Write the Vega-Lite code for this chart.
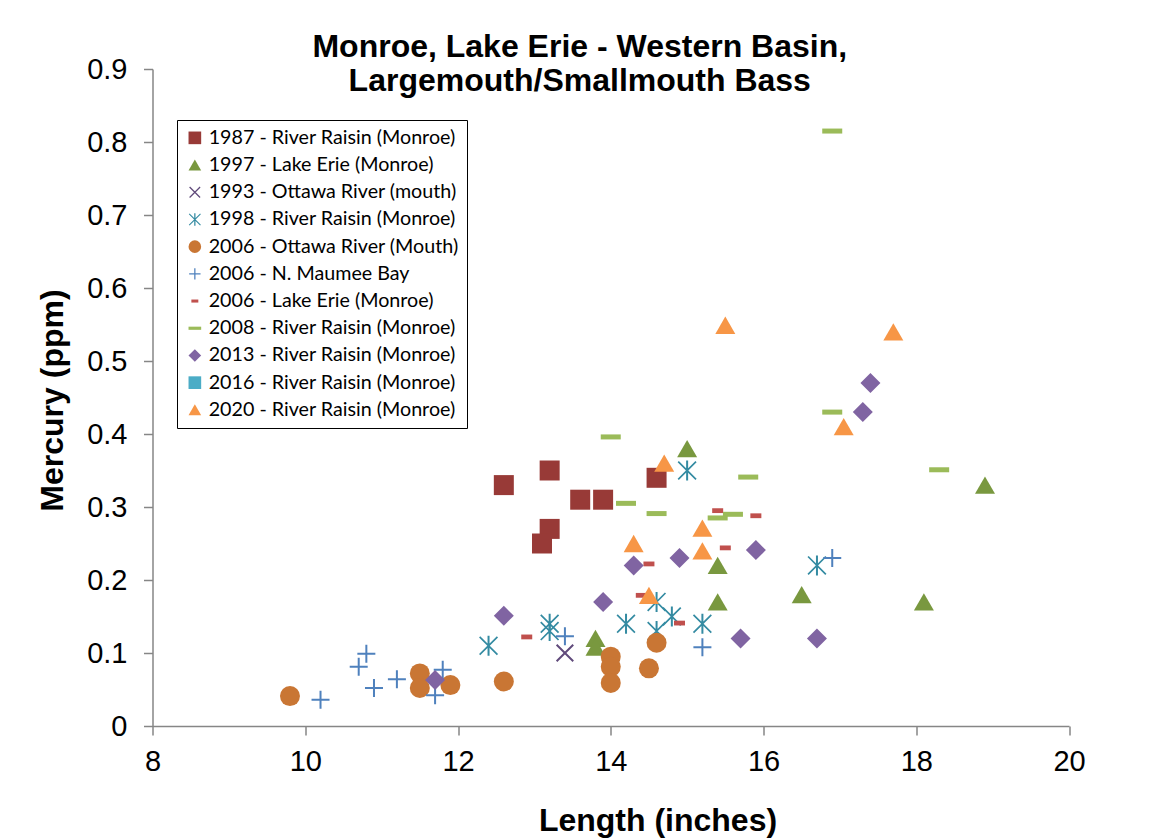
{
  "$schema": "https://vega.github.io/schema/vega-lite/v6.json",
  "width": 916.5,
  "height": 657,
  "autosize": {"type": "none"},
  "padding": {"left": 152.5, "top": 69, "right": 87, "bottom": 114},
  "background": "white",
  "title": {
    "text": ["Monroe, Lake Erie - Western Basin,", "Largemouth/Smallmouth Bass"],
    "font": "Liberation Sans",
    "fontSize": 32,
    "fontWeight": "bold",
    "color": "black",
    "anchor": "middle",
    "frame": "group",
    "dx": -31,
    "lineHeight": 34,
    "offset": -43
  },
  "config": {
    "view": {"stroke": null},
    "axis": {"grid": false}
  },
  "data": {
    "values": [
      {"series": "1987 - River Raisin (Monroe)", "length": 12.6, "mercury": 0.33},
      {"series": "1987 - River Raisin (Monroe)", "length": 13.2, "mercury": 0.35},
      {"series": "1987 - River Raisin (Monroe)", "length": 13.6, "mercury": 0.31},
      {"series": "1987 - River Raisin (Monroe)", "length": 13.9, "mercury": 0.31},
      {"series": "1987 - River Raisin (Monroe)", "length": 13.2, "mercury": 0.27},
      {"series": "1987 - River Raisin (Monroe)", "length": 13.1, "mercury": 0.25},
      {"series": "1987 - River Raisin (Monroe)", "length": 14.6, "mercury": 0.34},
      {"series": "1997 - Lake Erie (Monroe)", "length": 15.0, "mercury": 0.38},
      {"series": "1997 - Lake Erie (Monroe)", "length": 15.4, "mercury": 0.22},
      {"series": "1997 - Lake Erie (Monroe)", "length": 15.4, "mercury": 0.17},
      {"series": "1997 - Lake Erie (Monroe)", "length": 13.8, "mercury": 0.12},
      {"series": "1997 - Lake Erie (Monroe)", "length": 13.8, "mercury": 0.108},
      {"series": "1997 - Lake Erie (Monroe)", "length": 16.5, "mercury": 0.18},
      {"series": "1997 - Lake Erie (Monroe)", "length": 18.1, "mercury": 0.17},
      {"series": "1997 - Lake Erie (Monroe)", "length": 18.9, "mercury": 0.33},
      {"series": "1993 - Ottawa River (mouth)", "length": 13.4, "mercury": 0.10},
      {"series": "1998 - River Raisin (Monroe)", "length": 15.0, "mercury": 0.35},
      {"series": "1998 - River Raisin (Monroe)", "length": 12.4, "mercury": 0.11},
      {"series": "1998 - River Raisin (Monroe)", "length": 13.2, "mercury": 0.14},
      {"series": "1998 - River Raisin (Monroe)", "length": 13.2, "mercury": 0.13},
      {"series": "1998 - River Raisin (Monroe)", "length": 14.2, "mercury": 0.14},
      {"series": "1998 - River Raisin (Monroe)", "length": 14.6, "mercury": 0.17},
      {"series": "1998 - River Raisin (Monroe)", "length": 14.8, "mercury": 0.15},
      {"series": "1998 - River Raisin (Monroe)", "length": 14.6, "mercury": 0.13},
      {"series": "1998 - River Raisin (Monroe)", "length": 15.2, "mercury": 0.14},
      {"series": "1998 - River Raisin (Monroe)", "length": 16.7, "mercury": 0.22},
      {"series": "2006 - Ottawa River (Mouth)", "length": 9.8, "mercury": 0.041},
      {"series": "2006 - Ottawa River (Mouth)", "length": 11.5, "mercury": 0.072},
      {"series": "2006 - Ottawa River (Mouth)", "length": 11.5, "mercury": 0.052},
      {"series": "2006 - Ottawa River (Mouth)", "length": 11.9, "mercury": 0.056},
      {"series": "2006 - Ottawa River (Mouth)", "length": 12.6, "mercury": 0.061},
      {"series": "2006 - Ottawa River (Mouth)", "length": 14.0, "mercury": 0.095},
      {"series": "2006 - Ottawa River (Mouth)", "length": 14.0, "mercury": 0.081},
      {"series": "2006 - Ottawa River (Mouth)", "length": 14.0, "mercury": 0.059},
      {"series": "2006 - Ottawa River (Mouth)", "length": 14.5, "mercury": 0.079},
      {"series": "2006 - Ottawa River (Mouth)", "length": 14.6, "mercury": 0.114},
      {"series": "2006 - N. Maumee Bay", "length": 10.2, "mercury": 0.036},
      {"series": "2006 - N. Maumee Bay", "length": 10.7, "mercury": 0.081},
      {"series": "2006 - N. Maumee Bay", "length": 10.8, "mercury": 0.099},
      {"series": "2006 - N. Maumee Bay", "length": 10.9, "mercury": 0.052},
      {"series": "2006 - N. Maumee Bay", "length": 11.2, "mercury": 0.064},
      {"series": "2006 - N. Maumee Bay", "length": 11.8, "mercury": 0.077},
      {"series": "2006 - N. Maumee Bay", "length": 11.7, "mercury": 0.042},
      {"series": "2006 - N. Maumee Bay", "length": 13.4, "mercury": 0.123},
      {"series": "2006 - N. Maumee Bay", "length": 15.2, "mercury": 0.108},
      {"series": "2006 - N. Maumee Bay", "length": 16.9, "mercury": 0.23},
      {"series": "2006 - Lake Erie (Monroe)", "length": 12.9, "mercury": 0.122},
      {"series": "2006 - Lake Erie (Monroe)", "length": 14.4, "mercury": 0.179},
      {"series": "2006 - Lake Erie (Monroe)", "length": 14.5, "mercury": 0.222},
      {"series": "2006 - Lake Erie (Monroe)", "length": 14.9, "mercury": 0.141},
      {"series": "2006 - Lake Erie (Monroe)", "length": 15.4, "mercury": 0.295},
      {"series": "2006 - Lake Erie (Monroe)", "length": 15.9, "mercury": 0.288},
      {"series": "2006 - Lake Erie (Monroe)", "length": 15.5, "mercury": 0.244},
      {"series": "2008 - River Raisin (Monroe)", "length": 14.0, "mercury": 0.396},
      {"series": "2008 - River Raisin (Monroe)", "length": 14.2, "mercury": 0.305},
      {"series": "2008 - River Raisin (Monroe)", "length": 14.6, "mercury": 0.291},
      {"series": "2008 - River Raisin (Monroe)", "length": 15.8, "mercury": 0.341},
      {"series": "2008 - River Raisin (Monroe)", "length": 15.4, "mercury": 0.285},
      {"series": "2008 - River Raisin (Monroe)", "length": 15.6, "mercury": 0.29},
      {"series": "2008 - River Raisin (Monroe)", "length": 16.9, "mercury": 0.815},
      {"series": "2008 - River Raisin (Monroe)", "length": 16.9, "mercury": 0.43},
      {"series": "2008 - River Raisin (Monroe)", "length": 18.3, "mercury": 0.351},
      {"series": "2013 - River Raisin (Monroe)", "length": 11.7, "mercury": 0.063},
      {"series": "2013 - River Raisin (Monroe)", "length": 12.6, "mercury": 0.151},
      {"series": "2013 - River Raisin (Monroe)", "length": 13.9, "mercury": 0.17},
      {"series": "2013 - River Raisin (Monroe)", "length": 14.3, "mercury": 0.22},
      {"series": "2013 - River Raisin (Monroe)", "length": 14.9, "mercury": 0.23},
      {"series": "2013 - River Raisin (Monroe)", "length": 15.9, "mercury": 0.241},
      {"series": "2013 - River Raisin (Monroe)", "length": 15.7, "mercury": 0.12},
      {"series": "2013 - River Raisin (Monroe)", "length": 16.7, "mercury": 0.12},
      {"series": "2013 - River Raisin (Monroe)", "length": 17.3, "mercury": 0.43},
      {"series": "2013 - River Raisin (Monroe)", "length": 17.4, "mercury": 0.47},
      {"series": "2020 - River Raisin (Monroe)", "length": 15.5, "mercury": 0.549},
      {"series": "2020 - River Raisin (Monroe)", "length": 17.7, "mercury": 0.54},
      {"series": "2020 - River Raisin (Monroe)", "length": 17.05, "mercury": 0.41},
      {"series": "2020 - River Raisin (Monroe)", "length": 14.7, "mercury": 0.36},
      {"series": "2020 - River Raisin (Monroe)", "length": 15.2, "mercury": 0.271},
      {"series": "2020 - River Raisin (Monroe)", "length": 15.2, "mercury": 0.24},
      {"series": "2020 - River Raisin (Monroe)", "length": 14.3, "mercury": 0.25},
      {"series": "2020 - River Raisin (Monroe)", "length": 14.5, "mercury": 0.179}
    ]
  },
  "mark": {"type": "point", "filled": true, "opacity": 1, "size": 400, "strokeWidth": 0},
  "encoding": {
    "x": {
      "field": "length",
      "type": "quantitative",
      "scale": {"domain": [8, 20], "nice": false, "zero": false},
      "axis": {
        "values": [8, 10, 12, 14, 16, 18, 20],
        "title": "Length (inches)",
        "domainColor": "#868686",
        "domainWidth": 1.5,
        "tickColor": "#868686",
        "tickWidth": 1.5,
        "tickSize": 9,
        "labelFont": "Liberation Sans",
        "labelFontSize": 29,
        "labelColor": "black",
        "labelPadding": 12,
        "labelFlush": false,
        "labelOverlap": false,
        "titleFont": "Liberation Sans",
        "titleFontSize": 32,
        "titleFontWeight": "bold",
        "titleColor": "black",
        "titleX": 505,
        "titleY": 104,
        "titleBaseline": "alphabetic",
        "titleAlign": "center"
      }
    },
    "y": {
      "field": "mercury",
      "type": "quantitative",
      "scale": {"domain": [0, 0.9], "nice": false},
      "axis": {
        "values": [0, 0.1, 0.2, 0.3, 0.4, 0.5, 0.6, 0.7, 0.8, 0.9],
        "format": ".1~f",
        "title": "Mercury (ppm)",
        "domainColor": "#868686",
        "domainWidth": 1.5,
        "tickColor": "#868686",
        "tickWidth": 1.5,
        "tickSize": 9,
        "labelFont": "Liberation Sans",
        "labelFontSize": 29,
        "labelColor": "black",
        "labelPadding": 16.5,
        "labelFlush": false,
        "labelOverlap": false,
        "titleFont": "Liberation Sans",
        "titleFontSize": 32,
        "titleFontWeight": "bold",
        "titleColor": "black",
        "titleX": -90,
        "titleY": 331,
        "titleAngle": 270,
        "titleBaseline": "alphabetic",
        "titleAlign": "center"
      }
    },
    "color": {
      "field": "series",
      "type": "nominal",
      "scale": {
        "domain": [
          "1987 - River Raisin (Monroe)",
          "1997 - Lake Erie (Monroe)",
          "1993 - Ottawa River (mouth)",
          "1998 - River Raisin (Monroe)",
          "2006 - Ottawa River (Mouth)",
          "2006 - N. Maumee Bay",
          "2006 - Lake Erie (Monroe)",
          "2008 - River Raisin (Monroe)",
          "2013 - River Raisin (Monroe)",
          "2016 - River Raisin (Monroe)",
          "2020 - River Raisin (Monroe)"
        ],
        "range": ["#983A37", "#79983F", "#604A7B", "#348BA2", "#C97634", "#4F81BD", "#C0504D", "#9BBB59", "#8064A2", "#4BACC6", "#F79646"]
      },
      "legend": {
        "orient": "none",
        "legendX": 24.5,
        "legendY": 51,
        "title": null,
        "padding": 8,
        "rowPadding": 6.2,
        "labelOffset": 4,
        "labelFont": "Lato",
        "labelFontSize": 19.7,
        "labelColor": "black",
        "labelLimit": 400,
        "symbolSize": 160,
        "symbolStrokeWidth": 0,
        "symbolOpacity": 1,
        "strokeColor": "black",
        "fillColor": "white",
        "cornerRadius": 0
      }
    },
    "shape": {
      "field": "series",
      "type": "nominal",
      "scale": {
        "domain": [
          "1987 - River Raisin (Monroe)",
          "1997 - Lake Erie (Monroe)",
          "1993 - Ottawa River (mouth)",
          "1998 - River Raisin (Monroe)",
          "2006 - Ottawa River (Mouth)",
          "2006 - N. Maumee Bay",
          "2006 - Lake Erie (Monroe)",
          "2008 - River Raisin (Monroe)",
          "2013 - River Raisin (Monroe)",
          "2016 - River Raisin (Monroe)",
          "2020 - River Raisin (Monroe)"
        ],
        "range": [
          "square",
          "triangle-up",
          "M-0.9,-0.76L-0.76,-0.9L0.9,0.76L0.76,0.9Z M0.9,-0.76L-0.76,0.9L-0.9,0.76L0.76,-0.9Z",
          "M-0.95,-0.83L-0.83,-0.95L0.95,0.83L0.83,0.95Z M0.95,-0.83L-0.83,0.95L-0.95,0.83L0.83,-0.95Z M-0.1,-1L0.1,-1L0.1,1L-0.1,1Z",
          "circle",
          "M-0.9,-0.1H-0.1V-0.9H0.1V-0.1H0.9V0.1H0.1V0.9H-0.1V0.1H-0.9Z",
          "M-0.55,-0.24H0.55V0.24H-0.55Z",
          "M-1,-0.25H1V0.25H-1Z",
          "diamond",
          "square",
          "triangle-up"
        ]
      }
    }
  }
}
